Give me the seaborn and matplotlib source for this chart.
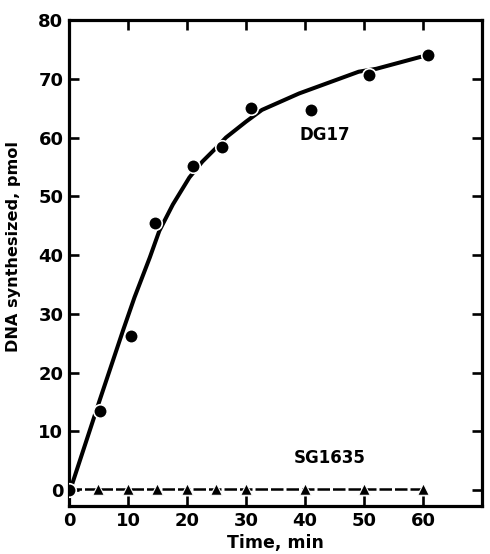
import numpy as np
import pandas as pd
import seaborn as sns
import matplotlib.pyplot as plt

# DG17 measured points
dg17_time = [0, 5.2, 10.5, 14.5, 21.0, 25.9, 30.9, 41.0, 50.9, 60.9]
dg17_dna = [0.0, 13.5, 26.2, 45.5, 55.1, 58.4, 65.1, 64.7, 70.7, 74.0]

# hand-drawn DG17 curve
curve_time = [0.2, 5.2, 9.2, 11.1, 13.7, 15.3, 17.6, 20.4, 22.6, 24.9, 26.6,
              30.0, 32.7, 39.0, 49.1, 52.1, 59.5, 60.9]
curve_dna = [0.0, 15.3, 27.3, 32.8, 39.6, 44.1, 48.6, 53.2, 55.9, 58.2, 60.0,
             62.7, 64.7, 67.5, 71.2, 71.7, 73.7, 74.0]

# SG1635 points
sg_time = [0, 5, 10, 15, 20, 25, 30, 40, 50, 60]
sg_dna = [0.2, 0.2, 0.2, 0.2, 0.2, 0.2, 0.2, 0.2, 0.2, 0.2]

x_ticks = [0, 10, 20, 30, 40, 50, 60]
y_ticks = [0, 10, 20, 30, 40, 50, 60, 70, 80]

sns.set_style('ticks')
plt.rcParams['font.family'] = ['DejaVu Sans']
plt.rcParams['font.weight'] = 'bold'
plt.rcParams['text.color'] = 'black'
plt.rcParams['axes.labelcolor'] = 'black'
plt.rcParams['xtick.color'] = 'black'
plt.rcParams['ytick.color'] = 'black'

fig = plt.figure(figsize=(4.9, 5.54), dpi=100)
ax = fig.add_axes([0.1408, 0.0866, 0.8429, 0.8773])

curve_df = pd.DataFrame({'Time': curve_time, 'DNA': curve_dna})
dg_df = pd.DataFrame({'Time': dg17_time, 'DNA': dg17_dna})
sg_df = pd.DataFrame({'Time': sg_time, 'DNA': sg_dna})

sns.lineplot(data=sg_df, x='Time', y='DNA', ax=ax, color='black', lw=1.8,
             zorder=2)
ax.lines[-1].set_dashes((5, 1.2))
sns.scatterplot(data=sg_df, x='Time', y='DNA', ax=ax, marker='^', s=70,
                color='black', edgecolor='white', linewidth=0.8, zorder=3)

sns.lineplot(data=curve_df, x='Time', y='DNA', ax=ax, color='black', lw=2.9,
             zorder=2)
sns.scatterplot(data=dg_df, x='Time', y='DNA', ax=ax, marker='o', s=95,
                color='black', edgecolor='white', linewidth=1.2, zorder=4)

ax.text(43.4, 60.5, 'DG17', ha='center', va='center', fontsize=12, fontweight='bold')
ax.text(44.1, 5.4, 'SG1635', ha='center', va='center', fontsize=12, fontweight='bold')

ax.set_xlim(0, 70)
ax.set_ylim(-2.7, 80)
ax.set_xticks(x_ticks)
ax.set_yticks(y_ticks)
ax.tick_params(direction='in', length=7.5, width=1.9, top=True, right=True,
               labelsize=13, pad=4, colors='black')
for lab in ax.get_xticklabels() + ax.get_yticklabels():
    lab.set_fontweight('bold')
for s in ax.spines.values():
    s.set_linewidth(2.3)
    s.set_color('black')

ax.set_xlabel('Time, min', fontsize=12.5, fontweight='bold')
ax.set_ylabel('DNA synthesized, pmol', fontsize=11.6, fontweight='bold')
ax.xaxis.set_label_coords(0.5, -0.058)
ax.yaxis.set_label_coords(-0.117, 0.533)

fig.savefig('out.png', dpi=100)
